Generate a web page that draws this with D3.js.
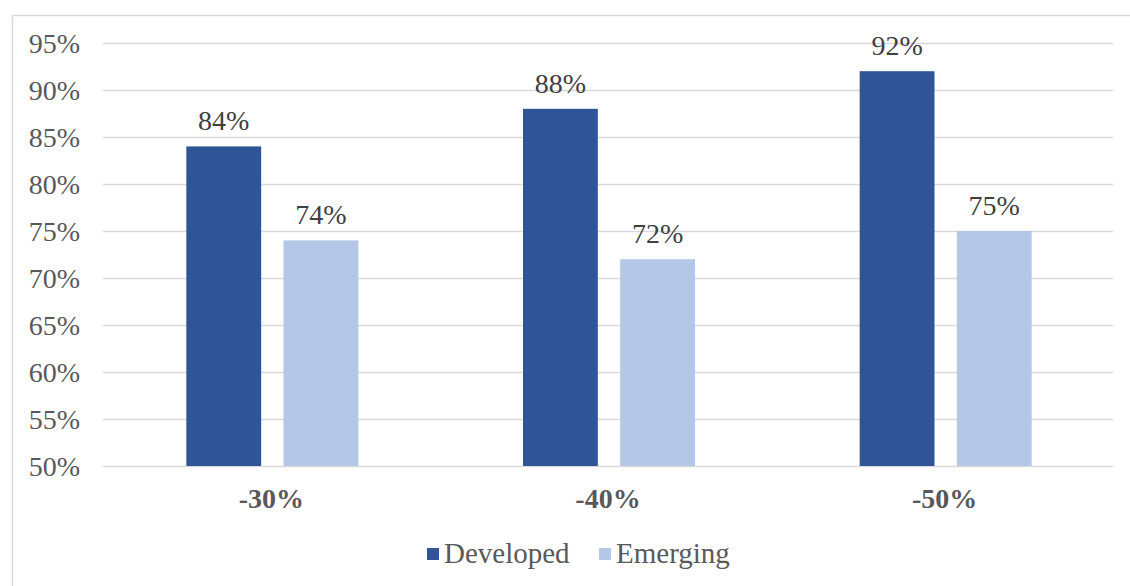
<!DOCTYPE html>
<html>
<head>
<meta charset="utf-8">
<script src="https://cdn.jsdelivr.net/npm/d3@7"></script>
<style>
  body { margin: 0; background: #fff; }
</style>
</head>
<body>
<div id="chart"></div>
<script>
// data
const categories = ['-30%', '-40%', '-50%'];
const seriesNames = ['Developed', 'Emerging'];
const developed = [84, 88, 92];
const emerging = [74, 72, 75];
const yTicks = [50, 55, 60, 65, 70, 75, 80, 85, 90, 95];

const colors = ['#2F5597', '#B4C7E7'];
const width = 1130, height = 586;
const margin = { top: 43, right: 17, bottom: 120, left: 103 };

const svg = d3.select('#chart').append('svg')
    .attr('width', width)
    .attr('height', height)
    .attr('font-family', '"Liberation Serif", "Times New Roman", serif');

// outer frame
svg.append('path')
    .attr('d', `M12.5,${height} L12.5,15.5 L${width},15.5`)
    .attr('fill', 'none')
    .attr('stroke', '#d9d9d9')
    .attr('stroke-width', 1.5);

const x0 = d3.scaleBand()
    .domain(categories)
    .range([margin.left, width - margin.right]);

const x1 = d3.scaleBand()
    .domain(seriesNames)
    .range([0, 172])
    .paddingInner(0.23);

const y = d3.scaleLinear()
    .domain([50, 95])
    .range([height - margin.bottom, margin.top]);

// gridlines
svg.append('g')
    .selectAll('line')
    .data(yTicks)
    .join('line')
    .attr('x1', margin.left)
    .attr('x2', width - margin.right)
    .attr('y1', d => Math.round(y(d)) + 0.5)
    .attr('y2', d => Math.round(y(d)) + 0.5)
    .attr('stroke', '#d9d9d9')
    .attr('stroke-width', 1.5);

// y tick labels
svg.append('g')
    .selectAll('text')
    .data(yTicks)
    .join('text')
    .attr('x', 80)
    .attr('y', d => y(d) + 9.5)
    .attr('text-anchor', 'end')
    .attr('font-size', 28)
    .attr('fill', '#595959')
    .text(d => d + '%');

// bars
const rows = categories.map((c, i) => ({ cat: c, vals: [developed[i], emerging[i]] }));

const groups = svg.append('g')
    .selectAll('g')
    .data(rows)
    .join('g')
    .attr('transform', d => `translate(${x0(d.cat) + x0.bandwidth() / 2 - 85},0)`);

groups.selectAll('rect')
    .data(d => d.vals.map((v, j) => ({ name: seriesNames[j], v: v, j: j })))
    .join('rect')
    .attr('x', d => x1(d.name))
    .attr('y', d => y(d.v))
    .attr('width', x1.bandwidth())
    .attr('height', d => y(50) - y(d.v))
    .attr('fill', d => colors[d.j]);

groups.selectAll('text')
    .data(d => d.vals.map((v, j) => ({ name: seriesNames[j], v: v })))
    .join('text')
    .attr('x', d => x1(d.name) + x1.bandwidth() / 2)
    .attr('y', d => y(d.v) - 16)
    .attr('text-anchor', 'middle')
    .attr('font-size', 28)
    .attr('fill', '#404040')
    .text(d => d.v + '%');

// category labels
svg.append('g')
    .selectAll('text')
    .data(categories)
    .join('text')
    .attr('x', d => x0(d) + x0.bandwidth() / 2)
    .attr('y', 508)
    .attr('text-anchor', 'middle')
    .attr('font-size', 28)
    .attr('font-weight', 'bold')
    .attr('fill', '#595959')
    .text(d => d);

// legend
const legendX = [427, 599];
const legend = svg.append('g')
    .selectAll('g')
    .data(seriesNames)
    .join('g')
    .attr('transform', (d, i) => `translate(${legendX[i]},563)`);

legend.append('rect')
    .attr('x', 0)
    .attr('y', -15)
    .attr('width', 12)
    .attr('height', 12)
    .attr('fill', (d, i) => colors[i]);

legend.append('text')
    .attr('x', 17)
    .attr('y', 0)
    .attr('font-size', 29)
    .attr('fill', '#595959')
    .text(d => d);
</script>
</body>
</html>
